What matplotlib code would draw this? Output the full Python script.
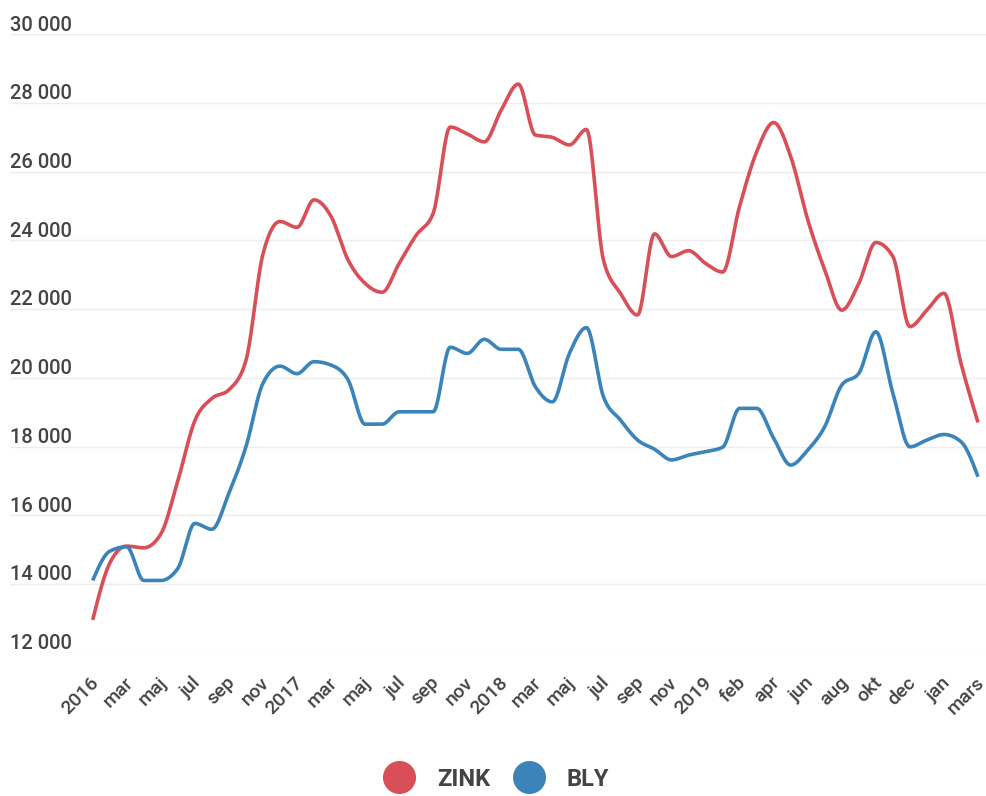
'''
Zink och bly, pris per ton
'''

# Imports
import numpy as np
import matplotlib
matplotlib.use('Agg')
import matplotlib.pyplot as plt
from matplotlib.lines import Line2D
from matplotlib.transforms import ScaledTranslation

# Data (one value per month, jan 2016 - mars 2020)
zink = [12950, 14600, 15100, 15050, 15450, 17000, 18750, 19400, 19650, 20500,
        23600, 24550, 24380, 25180, 24700, 23430, 22750, 22490, 23330, 24150,
        24790, 27300, 27100, 26870, 27800, 28550, 27070, 27000, 26780, 27230,
        23430, 22460, 21830, 24190, 23530, 23700, 23330, 23080, 25000, 26580,
        27430, 26440, 24600, 23140, 21970, 22750, 23940, 23530, 21490, 21970,
        22460, 20420, 18700]
bly = [14100, 14950, 15080, 14100, 14100, 14450, 15760, 15590, 16640, 17990,
       19840, 20340, 20120, 20470, 20370, 19940, 18650, 18650, 19010, 19010,
       19010, 20890, 20710, 21120, 20830, 20830, 19740, 19300, 20710, 21460,
       19450, 18770, 18190, 17920, 17610, 17750, 17850, 17980, 19110, 19110,
       18240, 17460, 17900, 18580, 19790, 20130, 21340, 19550, 17990, 18190,
       18350, 18140, 17120]
tick_labels = ['2016', 'mar', 'maj', 'jul', 'sep', 'nov',
               '2017', 'mar', 'maj', 'jul', 'sep', 'nov',
               '2018', 'mar', 'maj', 'jul', 'sep', 'nov',
               '2019', 'feb', 'apr', 'jun', 'aug', 'okt', 'dec', 'jan', 'mars']
y_ticks = [12000, 14000, 16000, 18000, 20000, 22000, 24000, 26000, 28000, 30000]
series_names = ['ZINK', 'BLY']
colors = ['#d94f57', '#3b84b9']

TEXT = '#444444'


def monotone_x(y, n=20):
    '''Monotone cubic curve through the points (like d3 curveMonotoneX)'''
    y = np.asarray(y, dtype=float)
    x = np.arange(len(y), dtype=float)
    s = np.diff(y)
    t = np.zeros(len(y))
    for i in range(1, len(y) - 1):
        s0, s1 = s[i - 1], s[i]
        p = (s0 + s1) / 2
        t[i] = (np.sign(s0) + np.sign(s1)) * min(abs(s0), abs(s1), 0.5 * abs(p))
    t[0] = (3 * s[0] - t[1]) / 2
    t[-1] = (3 * s[-1] - t[-2]) / 2
    xs, ys = [], []
    u = np.linspace(0, 1, n, endpoint=False)
    for i in range(len(y) - 1):
        h00 = 2 * u**3 - 3 * u**2 + 1
        h10 = u**3 - 2 * u**2 + u
        h01 = -2 * u**3 + 3 * u**2
        h11 = u**3 - u**2
        xs.append(x[i] + u)
        ys.append(h00 * y[i] + h10 * t[i] + h01 * y[i + 1] + h11 * t[i + 1])
    xs.append([x[-1]])
    ys.append([y[-1]])
    return np.concatenate(xs), np.concatenate(ys)


# Plot
fig = plt.figure(figsize=(9.87, 7.96), dpi=100)
ax = fig.add_axes([10 / 987, 1 - 652.6 / 796, 977 / 987, (652.6 - 34.3) / 796])
ax.set_xlim(-82.7 / 17.03, 52 + 9 / 17.03)
ax.set_ylim(12000, 30000)

for v in y_ticks:
    ax.axhline(v, color='#ececec', lw=1, zorder=0)
    ax.text(0, v + 105, f'{v:,}'.replace(',', ' '), transform=ax.get_yaxis_transform(),
            ha='left', va='baseline', fontsize=14.5, color=TEXT,
            family='Roboto', fontweight='medium')

for vals, c in zip([zink, bly], colors):
    xs, ys = monotone_x(vals)
    ax.plot(xs, ys, color=c, lw=2.6, solid_capstyle='butt', zorder=3)

ax.set_yticks([])
ax.set_xticks(range(0, len(zink), 2))
ax.set_xticklabels(tick_labels, rotation=45, ha='right', va='top',
                   rotation_mode='anchor', fontsize=14, color=TEXT,
                   family='Roboto', fontweight='medium')
ax.tick_params(axis='x', length=0, pad=15)
for lbl in ax.get_xticklabels():
    lbl.set_transform(lbl.get_transform() + ScaledTranslation(-3 / 100, 0, fig.dpi_scale_trans))
for sp in ax.spines.values():
    sp.set_visible(False)

handles = [Line2D([], [], ls='', marker='o', markersize=23.8, color=c, markeredgewidth=0)
           for c in colors]
fig.legend(handles, series_names, loc='center', bbox_to_anchor=(496 / 987, 1 - 779 / 796),
           ncol=2, frameon=False, handlelength=1.4, handletextpad=0.9, columnspacing=0.95,
           prop={'family': 'Roboto', 'weight': 'bold', 'size': 17}, labelcolor=TEXT)

fig.savefig('out.png', dpi=100, facecolor='white')
